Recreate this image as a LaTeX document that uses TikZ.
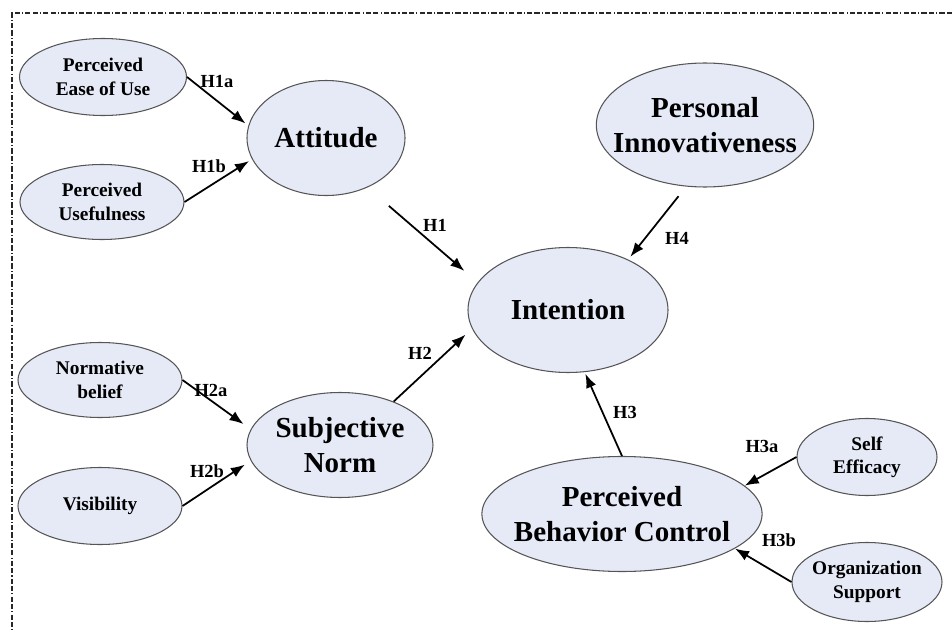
\documentclass[tikz,border=0pt]{standalone}
\usepackage{fontspec}
\setmainfont{Liberation Serif}
\usepackage{tikz}
\usetikzlibrary{shapes.geometric,arrows.meta}
\definecolor{ovalfill}{RGB}{230,234,247}
\definecolor{ovalline}{RGB}{85,85,85}
\definecolor{framecol}{RGB}{40,40,40}

\begin{document}
\begin{tikzpicture}[
  construct/.style = {ellipse, draw = ovalline, fill = ovalfill, line width = 0.6pt, inner sep = 0pt, align = center, font = \bfseries\fontsize{16.5}{20}\selectfont},
  item/.style = {construct, font = \bfseries\fontsize{11}{13.3}\selectfont},
  hyp/.style = {inner sep = 0pt, font = \bfseries\fontsize{10.5}{12}\selectfont},
  link/.style = {-{Latex[length=8pt,width=6pt]}, line width = 1pt},
  frame/.style = {framecol, line width = 1pt, dash pattern = on 3pt off 1.2pt on 3pt off 1.2pt on 0.6pt off 1.2pt}
]
\useasboundingbox (0,0) rectangle (19.04,12.6);
\draw [frame] (19.04,12.34) -- (0.24,12.34) -- (0.24,0);

% constructs
\node [construct, minimum width = 3.16cm, minimum height = 2.30cm] (att) at (6.52,9.84) {Attitude};
\node [construct, minimum width = 4.30cm, minimum height = 2.48cm, inner xsep = -0.3cm] (pi) at (14.10,10.10) {Personal\\Innovativeness};
\node [construct, minimum width = 4.00cm, minimum height = 2.50cm] (int) at (11.36,6.40) {Intention};
\node [construct, minimum width = 3.72cm, minimum height = 2.10cm, inner xsep = -0.05cm] (sn) at (6.80,3.70) {Subjective\\Norm};
\node [construct, minimum width = 5.58cm, minimum height = 2.30cm, inner xsep = -0.18cm] (pbc) at (12.44,2.32) {Perceived\\Behavior Control};

% items
\node [item, minimum width = 3.34cm, minimum height = 1.54cm] (pe) at (2.06,11.06) {Perceived\\Ease of Use};
\node [item, minimum width = 3.28cm, minimum height = 1.50cm] (pu) at (2.04,8.56) {Perceived\\Usefulness};
\node [item, minimum width = 3.28cm, minimum height = 1.50cm] (nb) at (2.00,5.00) {Normative\\belief};
\node [item, minimum width = 3.28cm, minimum height = 1.54cm] (vis) at (2.00,2.48) {Visibility};
\node [item, minimum width = 2.80cm, minimum height = 1.54cm] (se) at (17.34,3.46) {Self\\Efficacy};
\node [item, minimum width = 3.00cm, minimum height = 1.58cm, inner xsep = -0.06cm] (os) at (17.34,0.96) {Organization\\Support};

% hypotheses
\draw [link, shorten >= 2pt] (pe.east) -- (att.171);
\draw [link, shorten >= 2pt] (pu.east) -- (att.196);
\draw [link, shorten <= 16pt, shorten >= 10pt] (att.310) -- (int.163);
\draw [link, shorten <= 7pt, shorten >= 2pt] (pi.253) -- (int.40);
\draw [link, shorten >= 5pt] (sn.39) -- (int.191);
\draw [link, shorten >= 5pt] (nb.east) -- (sn.170);
\draw [link, shorten >= 4pt] (vis.east) -- (sn.190);
\draw [link, shorten >= 1pt] (pbc.north) -- (int.285);
\draw [link] (se.west) -- (pbc.13);
\draw [link] (os.west) -- (pbc.343);

\node [hyp] (h1a) at (4.34,10.98) {H1a};
\node [hyp] (h1b) at (4.18,9.28) {H1b};
\node [hyp] (h1) at (8.70,8.10) {H1};
\node [hyp] (h4) at (13.54,7.84) {H4};
\node [hyp] (h2) at (8.40,5.54) {H2};
\node [hyp] (h2a) at (4.22,4.80) {H2a};
\node [hyp] (h2b) at (4.14,3.18) {H2b};
\node [hyp] (h3) at (12.50,4.36) {H3};
\node [hyp] (h3a) at (15.24,3.68) {H3a};
\node [hyp] (h3b) at (15.58,1.80) {H3b};
\end{tikzpicture}
\end{document}
